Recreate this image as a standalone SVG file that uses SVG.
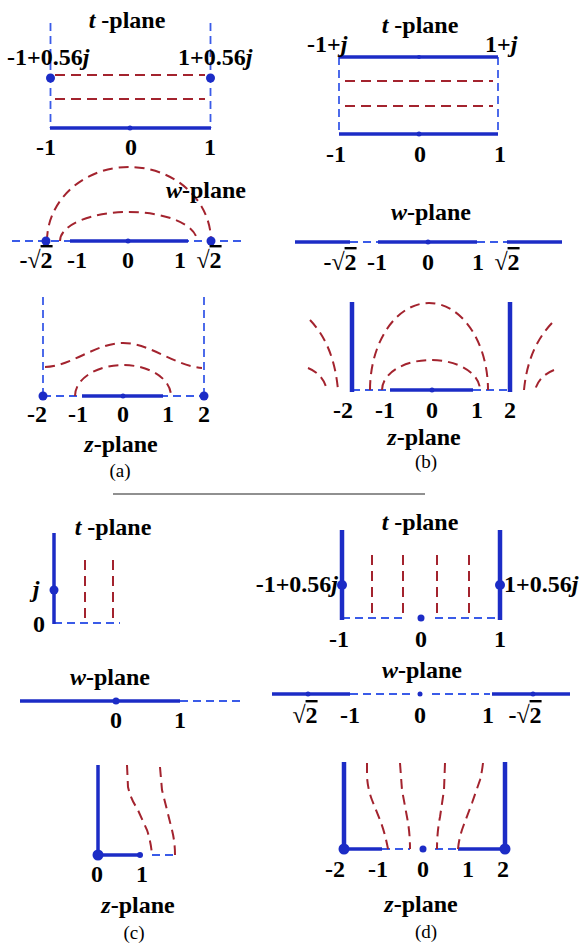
<svg xmlns="http://www.w3.org/2000/svg" width="585" height="945" viewBox="0 0 585 945">
<style>
text{font-family:"Liberation Serif","Times New Roman",serif;font-weight:bold;font-size:24px;fill:#000}
.it{font-style:italic}
.cap{font-weight:normal;font-size:19px}
.ov{text-decoration:overline}
.bs{stroke:#1c2cc6;stroke-width:3.5;fill:none}
.bt{stroke:#1c2cc6;stroke-width:4.5;fill:none}
.bd{stroke:#3a5be8;stroke-width:1.8;fill:none;stroke-dasharray:8 5}
.rd{stroke:#a3232e;stroke-width:2;fill:none;stroke-dasharray:10 6}
.dot{fill:#1c2cc6}
</style>
<rect width="585" height="945" fill="#fff"/>

<g id="panel-a">
  <g id="a-tplane">
    <line class="bd" x1="50.5" y1="23" x2="50.5" y2="128"/>
    <line class="bd" x1="210.5" y1="23" x2="210.5" y2="128"/>
    <line class="rd" x1="55" y1="75" x2="205" y2="75"/>
    <line class="rd" x1="55" y1="99" x2="205" y2="99"/>
    <line class="bs" x1="50" y1="128" x2="211" y2="128"/>
    <circle class="dot" cx="130" cy="128" r="2.5"/>
    <circle class="dot" cx="50.5" cy="78" r="4.5"/>
    <circle class="dot" cx="210.5" cy="78" r="4.5"/>
    <text x="127" y="28" text-anchor="middle"><tspan class="it">t</tspan> -plane</text>
    <text x="7" y="65">-1+0.56<tspan class="it">j</tspan></text>
    <text x="178" y="65">1+0.56<tspan class="it">j</tspan></text>
    <text x="46" y="155" text-anchor="middle">-1</text>
    <text x="131" y="155" text-anchor="middle">0</text>
    <text x="210" y="155" text-anchor="middle">1</text>
  </g>
  <g id="a-wplane">
    <line class="bd" x1="12" y1="241" x2="245" y2="241"/>
    <line class="bs" x1="70" y1="241" x2="188" y2="241"/>
    <circle class="dot" cx="128" cy="241" r="2.5"/>
    <path class="rd" d="M47,241 A82,74 0 0 1 211,241"/>
    <path class="rd" d="M60,241 A68.5,29 0 0 1 197,241"/>
    <circle class="dot" cx="46" cy="241" r="4.5"/>
    <circle class="dot" cx="211" cy="241" r="4.5"/>
    <text x="206" y="198" text-anchor="middle"><tspan class="it">w</tspan>-plane</text>
    <text x="36" y="268" text-anchor="middle">-√<tspan class="ov">2</tspan></text>
    <text x="77" y="268" text-anchor="middle">-1</text>
    <text x="128" y="268" text-anchor="middle">0</text>
    <text x="180" y="268" text-anchor="middle">1</text>
    <text x="209" y="268" text-anchor="middle">√<tspan class="ov">2</tspan></text>
  </g>
  <g id="a-zplane">
    <line class="bd" x1="43" y1="297" x2="43" y2="396"/>
    <line class="bd" x1="204" y1="297" x2="204" y2="396"/>
    <line class="bd" x1="43" y1="396" x2="204" y2="396"/>
    <line class="bs" x1="82" y1="396" x2="163" y2="396"/>
    <circle class="dot" cx="123" cy="396" r="2.5"/>
    <path class="rd" d="M45,367 C72,366 96,343 123,343 C150,343 175,366 202,368"/>
    <path class="rd" d="M75,396 A48,31 0 0 1 171,396"/>
    <circle class="dot" cx="43" cy="396" r="4.5"/>
    <circle class="dot" cx="204" cy="396" r="4.5"/>
    <text x="37" y="422" text-anchor="middle">-2</text>
    <text x="78" y="422" text-anchor="middle">-1</text>
    <text x="123" y="422" text-anchor="middle">0</text>
    <text x="168" y="422" text-anchor="middle">1</text>
    <text x="204" y="422" text-anchor="middle">2</text>
    <text x="121" y="452" text-anchor="middle"><tspan class="it">z</tspan>-plane</text>
    <text class="cap" x="120" y="477" text-anchor="middle">(a)</text>
  </g>
</g>

<g id="panel-b">
  <g id="b-tplane">
    <line class="bd" x1="339" y1="57" x2="339" y2="134"/>
    <line class="bd" x1="498" y1="57" x2="498" y2="134"/>
    <line class="rd" x1="345" y1="81" x2="493" y2="81"/>
    <line class="rd" x1="345" y1="106" x2="493" y2="106"/>
    <line class="bs" x1="339" y1="57" x2="498" y2="57"/>
    <line class="bs" x1="339" y1="134" x2="498" y2="134"/>
    <circle class="dot" cx="419" cy="57" r="2"/>
    <circle class="dot" cx="419" cy="134" r="2.5"/>
    <text x="420" y="33" text-anchor="middle"><tspan class="it">t</tspan> -plane</text>
    <text x="307" y="52">-1+<tspan class="it">j</tspan></text>
    <text x="485" y="52">1+<tspan class="it">j</tspan></text>
    <text x="336" y="162" text-anchor="middle">-1</text>
    <text x="420" y="162" text-anchor="middle">0</text>
    <text x="500" y="162" text-anchor="middle">1</text>
  </g>
  <g id="b-wplane">
    <line class="bd" x1="350" y1="242" x2="378" y2="242"/>
    <line class="bd" x1="477" y1="242" x2="507" y2="242"/>
    <line class="bs" x1="295" y1="242" x2="350" y2="242"/>
    <line class="bs" x1="378" y1="242" x2="477" y2="242"/>
    <line class="bs" x1="507" y1="242" x2="562" y2="242"/>
    <circle class="dot" cx="428" cy="242" r="2.5"/>
    <text x="431" y="220" text-anchor="middle"><tspan class="it">w</tspan>-plane</text>
    <text x="340" y="270" text-anchor="middle">-√<tspan class="ov">2</tspan></text>
    <text x="377" y="270" text-anchor="middle">-1</text>
    <text x="428" y="270" text-anchor="middle">0</text>
    <text x="478" y="270" text-anchor="middle">1</text>
    <text x="507" y="270" text-anchor="middle">√<tspan class="ov">2</tspan></text>
  </g>
  <g id="b-zplane">
    <line class="bd" x1="352" y1="390" x2="390" y2="390"/>
    <line class="bd" x1="473" y1="390" x2="510" y2="390"/>
    <line class="bs" x1="390" y1="390" x2="473" y2="390"/>
    <circle class="dot" cx="432" cy="390" r="2.5"/>
    <line class="bt" x1="352" y1="302" x2="352" y2="392"/>
    <line class="bt" x1="510" y1="302" x2="510" y2="392"/>
    <path class="rd" d="M370,390 A59,87 0 0 1 488,390"/>
    <path class="rd" d="M382,390 A49,30 0 0 1 480,390"/>
    <path class="rd" d="M310,320 Q334,345 338,390"/>
    <path class="rd" d="M308,368 Q323,374 327,390"/>
    <path class="rd" d="M552,323 Q528,348 524,390"/>
    <path class="rd" d="M554,370 Q539,376 535,390"/>
    <text x="343" y="418" text-anchor="middle">-2</text>
    <text x="385" y="418" text-anchor="middle">-1</text>
    <text x="432" y="418" text-anchor="middle">0</text>
    <text x="477" y="418" text-anchor="middle">1</text>
    <text x="510" y="418" text-anchor="middle">2</text>
    <text x="424" y="445" text-anchor="middle"><tspan class="it">z</tspan>-plane</text>
    <text class="cap" x="426" y="468" text-anchor="middle">(b)</text>
  </g>
</g>

<line id="separator" x1="113" y1="494" x2="425" y2="494" stroke="#222" stroke-width="1.2"/>

<g id="panel-c">
  <g id="c-tplane">
    <line class="bd" x1="54" y1="623" x2="120" y2="623"/>
    <line class="rd" x1="85" y1="560" x2="85" y2="623"/>
    <line class="rd" x1="113" y1="560" x2="113" y2="623"/>
    <line class="bs" x1="54" y1="533" x2="54" y2="624"/>
    <circle class="dot" cx="54" cy="590" r="4.5"/>
    <text x="113" y="535" text-anchor="middle"><tspan class="it">t</tspan> -plane</text>
    <text class="it" x="36" y="597" text-anchor="middle">j</text>
    <text x="39" y="632" text-anchor="middle">0</text>
  </g>
  <g id="c-wplane">
    <line class="bs" x1="20" y1="701" x2="180" y2="701"/>
    <line class="bd" x1="180" y1="701" x2="240" y2="701"/>
    <circle class="dot" cx="116" cy="701" r="3.5"/>
    <text x="110" y="685" text-anchor="middle"><tspan class="it">w</tspan>-plane</text>
    <text x="116" y="728" text-anchor="middle">0</text>
    <text x="180" y="728" text-anchor="middle">1</text>
  </g>
  <g id="c-zplane">
    <line class="bs" x1="98" y1="765" x2="98" y2="855"/>
    <line class="bs" x1="98" y1="855" x2="140" y2="855"/>
    <line class="bd" x1="152" y1="855" x2="178" y2="855"/>
    <path class="rd" d="M127,765 L128,787 Q131,800 137,808 L147,830 Q151,842 152,855"/>
    <path class="rd" d="M160,767 L162,790 L167,810 L172,830 Q175,842 175,855"/>
    <circle class="dot" cx="98" cy="855" r="5.5"/>
    <circle class="dot" cx="140" cy="855" r="3"/>
    <text x="97" y="882" text-anchor="middle">0</text>
    <text x="142" y="882" text-anchor="middle">1</text>
    <text x="138" y="913" text-anchor="middle"><tspan class="it">z</tspan>-plane</text>
    <text class="cap" x="134" y="939" text-anchor="middle">(c)</text>
  </g>
</g>

<g id="panel-d">
  <g id="d-tplane">
    <line class="bd" x1="342" y1="618" x2="405" y2="618"/>
    <line class="bd" x1="435" y1="618" x2="500" y2="618"/>
    <line class="rd" x1="372" y1="555" x2="372" y2="618"/>
    <line class="rd" x1="403" y1="555" x2="403" y2="618"/>
    <line class="rd" x1="437" y1="555" x2="437" y2="618"/>
    <line class="rd" x1="469" y1="555" x2="469" y2="618"/>
    <line class="bt" x1="342" y1="530" x2="342" y2="620"/>
    <line class="bt" x1="500" y1="530" x2="500" y2="620"/>
    <circle class="dot" cx="421" cy="618" r="3.5"/>
    <circle class="dot" cx="342" cy="585" r="5"/>
    <circle class="dot" cx="500" cy="585" r="5"/>
    <text x="420" y="530" text-anchor="middle"><tspan class="it">t</tspan> -plane</text>
    <text x="338" y="592" text-anchor="end">-1+0.56<tspan class="it">j</tspan></text>
    <text x="504" y="592">1+0.56<tspan class="it">j</tspan></text>
    <text x="339" y="647" text-anchor="middle">-1</text>
    <text x="421" y="647" text-anchor="middle">0</text>
    <text x="500" y="647" text-anchor="middle">1</text>
  </g>
  <g id="d-wplane">
    <line class="bs" x1="272" y1="694" x2="350" y2="694"/>
    <line class="bd" x1="350" y1="694" x2="412" y2="694"/>
    <line class="bd" x1="432" y1="694" x2="490" y2="694"/>
    <line class="bs" x1="492" y1="694" x2="570" y2="694"/>
    <circle class="dot" cx="308" cy="694" r="2.5"/>
    <circle class="dot" cx="420" cy="694" r="2.5"/>
    <circle class="dot" cx="533" cy="694" r="2.5"/>
    <text x="422" y="678" text-anchor="middle"><tspan class="it">w</tspan>-plane</text>
    <text x="305" y="723" text-anchor="middle">√<tspan class="ov">2</tspan></text>
    <text x="350" y="723" text-anchor="middle">-1</text>
    <text x="420" y="723" text-anchor="middle">0</text>
    <text x="488" y="723" text-anchor="middle">1</text>
    <text x="525" y="723" text-anchor="middle">-√<tspan class="ov">2</tspan></text>
  </g>
  <g id="d-zplane">
    <line class="bs" x1="344" y1="849" x2="382" y2="849"/>
    <line class="bd" x1="382" y1="849" x2="410" y2="849"/>
    <line class="bd" x1="435" y1="849" x2="458" y2="849"/>
    <line class="bs" x1="458" y1="849" x2="505" y2="849"/>
    <line class="bt" x1="344" y1="762" x2="344" y2="850"/>
    <line class="bt" x1="505" y1="762" x2="505" y2="850"/>
    <path class="rd" d="M367,763 L367,777 Q368,790 372,800 L380,820 Q385,833 388,849"/>
    <path class="rd" d="M400,763 L402,790 L407,817 Q410,832 410,849"/>
    <path class="rd" d="M445,763 L444,790 L440,817 Q437,832 437,849"/>
    <path class="rd" d="M483,763 Q482,772 480,780 L472,803 L463,827 Q459,838 458,849"/>
    <circle class="dot" cx="423" cy="849" r="3.5"/>
    <circle class="dot" cx="344" cy="849" r="5.5"/>
    <circle class="dot" cx="505" cy="849" r="5.5"/>
    <text x="335" y="877" text-anchor="middle">-2</text>
    <text x="378" y="877" text-anchor="middle">-1</text>
    <text x="423" y="877" text-anchor="middle">0</text>
    <text x="468" y="877" text-anchor="middle">1</text>
    <text x="503" y="877" text-anchor="middle">2</text>
    <text x="421" y="912" text-anchor="middle"><tspan class="it">z</tspan>-plane</text>
    <text class="cap" x="426" y="938" text-anchor="middle">(d)</text>
  </g>
</g>
</svg>
